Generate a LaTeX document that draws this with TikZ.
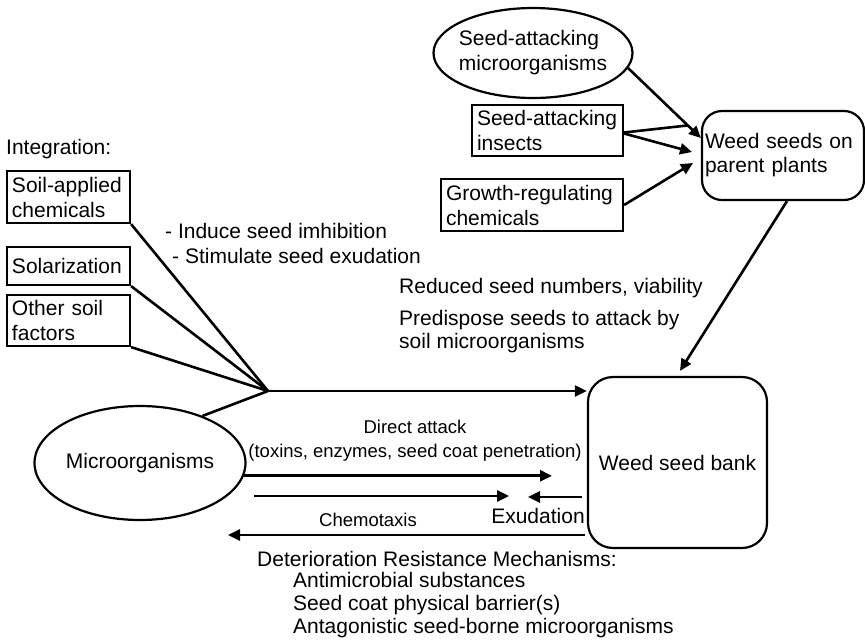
\documentclass[tikz,border=0pt]{standalone}
\usepackage{fontspec}
\setmainfont{Liberation Sans}
\usetikzlibrary{shapes.geometric, arrows.meta, positioning, calc}

\begin{document}
\begin{tikzpicture}[
    x=1pt, y=1pt,
    font=\fontsize{21}{25}\selectfont,
    box/.style={rectangle, draw, line width=2.2pt, align=left,
                inner xsep=5pt, inner ysep=0pt},
    rbox/.style={rectangle, draw, line width=2.2pt, align=center,
                 inner sep=0pt, rounded corners=20pt},
    oval/.style={ellipse, draw, line width=2.2pt, align=left, inner ysep=0pt},
    lbl/.style={anchor=west, inner sep=0pt, align=left},
    small/.style={font=\fontsize{18.5}{24}\selectfont},
    arrow/.style={-{Triangle[length=12pt,width=11pt]}, line width=2.6pt},
    link/.style={line width=2.6pt}
  ]
    \useasboundingbox (0,0) rectangle (865,-643);

    % top part: seeds still on the plant
    \node[oval, inner xsep=-6pt, minimum width=199pt, minimum height=90pt] (sam) at (533,-53)
        {Seed-attacking\\microorganisms};
    \node[box, text width=141pt, minimum height=51pt] (sai) at (547.5,-130.5)
        {Seed-attacking\\insects};
    \node[box, text width=172pt, minimum height=52pt] (grc) at (532,-205)
        {Growth-regulating\\chemicals};
    \node[rbox, align=left, text width=156pt, minimum height=89pt, inner xsep=3pt,
          font=\fontsize{21}{24}\selectfont] (wpp) at (783,-155.5)
        {Weed seeds on\\parent plants};

    % left part: integration
    \node[lbl] (integ) at (6,-149) {Integration:};
    \node[box, text width=113pt, minimum height=52pt] (sac) at (68.5,-197) {Soil-applied\\chemicals};
    \node[box, text width=113pt, minimum height=38pt] (sol) at (68.5,-266) {Solarization};
    \node[box, text width=113pt, minimum height=51pt] (osf) at (68.5,-320.5) {Other soil\\factors};

    \node[oval, inner xsep=0pt, minimum width=211pt, minimum height=114pt] (micro) at (140,-463)
        {Microorganisms};
    \node[rbox, rounded corners=25pt, minimum width=179pt, minimum height=171pt] (wsb) at (677.5,-462.5)
        {Weed seed bank};

    % labels
    \node[lbl] (induce) at (165,-231) {- Induce seed imhibition};
    \node[lbl] (stim) at (172,-256) {- Stimulate seed exudation};
    \node[lbl] (reduced) at (399,-288) {Reduced seed numbers, viability};
    \node[lbl, font=\fontsize{21}{23}\selectfont] (predis) at (399,-331.5)
        {Predispose seeds to attack by\\soil microorganisms};
    \node[small, inner sep=0pt, align=center] (direct) at (415,-441)
        {Direct attack\\(toxins, enzymes, seed coat penetration)};
    \node[small, inner sep=0pt] (chemo) at (368,-520) {Chemotaxis};
    \node[inner sep=0pt] (exud) at (538,-516) {Exudation};
    \node[lbl] (deter) at (257,-559) {Deterioration Resistance Mechanisms:};
    \node[lbl, font=\fontsize{21}{23}\selectfont] (mech) at (293,-605)
        {Antimicrobial substances\\Seed coat physical barrier(s)\\Antagonistic seed-borne microorganisms};

    % free ends
    \coordinate (j) at (268,-391);
    \coordinate (wp1) at ([yshift=17.5pt]wpp.west);
    \coordinate (wp2) at (692,-152);
    \coordinate (wp3) at (693,-163);
    \coordinate (mrg) at ($(sam.-9)!0.82!(wp1)$);
    \coordinate (datip) at (552,-475);
    \coordinate (cht0) at (254,-496);
    \coordinate (cht1) at (509,-496);
    \coordinate (exu0) at (582,-497);
    \coordinate (exu1) at (528,-497);
    \coordinate (res0) at (585,-535);
    \coordinate (res1) at (228,-535);

    % connectors
    \draw[arrow] (sam.-9) -- (wp1);
    \draw[link] ([yshift=-2pt]sai.east) -- (mrg);
    \draw[arrow] ([yshift=-3pt]sai.east) -- (wp2);
    \draw[arrow] (grc.east) -- (wp3);
    \draw[arrow] ([xshift=4pt]wpp.south) -- ([xshift=2.5pt,yshift=5pt]wsb.north);

    \draw[link] (sac.south east) -- (j);
    \draw[link] (sol.south east) -- (j);
    \draw[link] (osf.south east) -- (j);
    \draw[link] (micro.37) -- (j);
    \draw[arrow] (j) -- (j -| wsb.west);

    \draw[arrow] (micro.-7) -- (datip |- micro.-7);
    \draw[arrow] (cht0) -- (cht1);
    \draw[arrow] (exu0) -- (exu1);
    \draw[arrow] (res0) -- (res1);
\end{tikzpicture}
\end{document}
